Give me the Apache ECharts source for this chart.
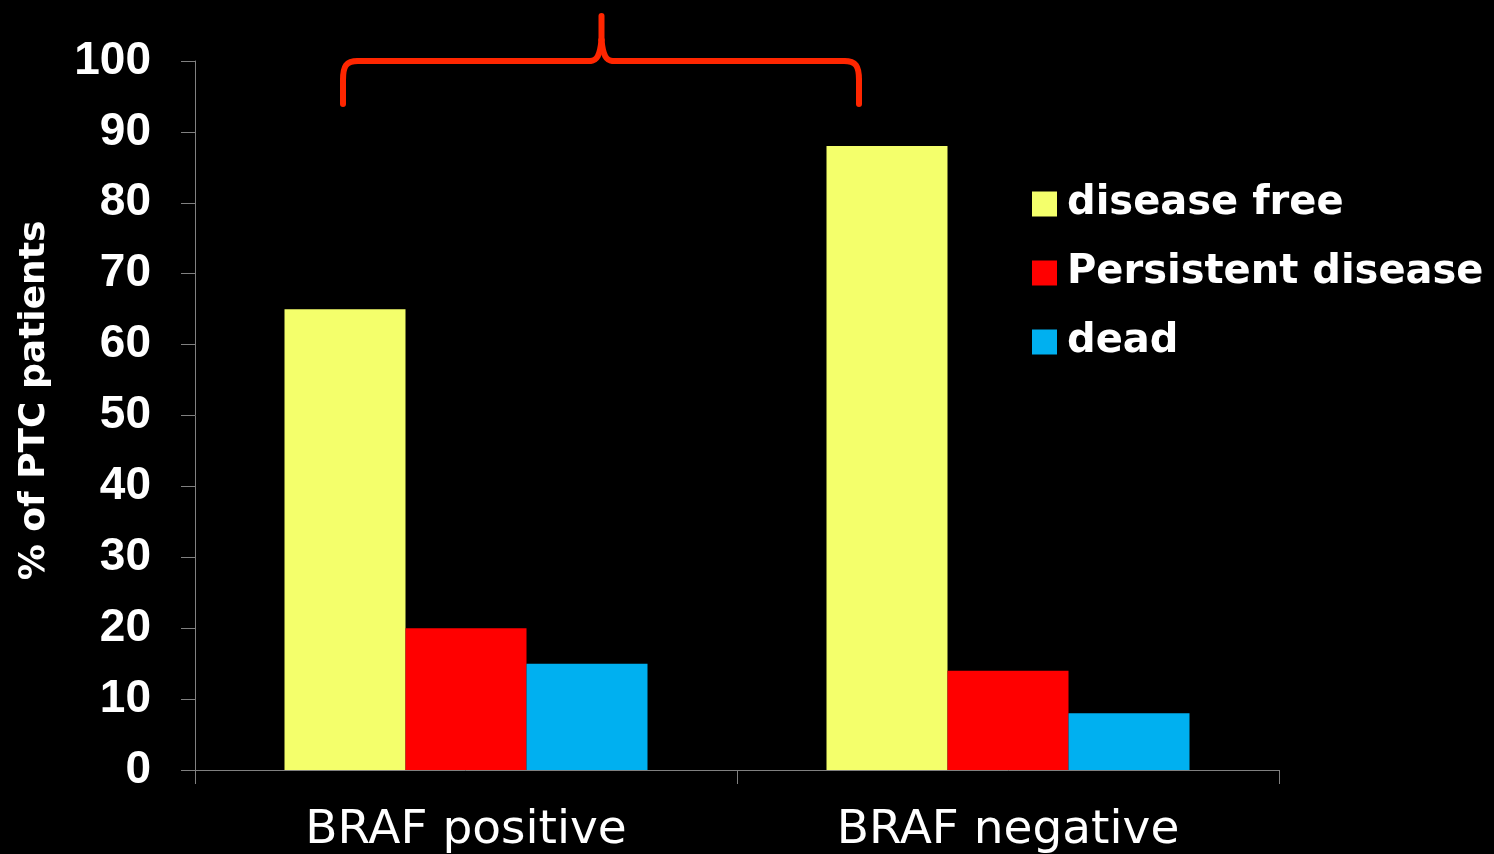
<!DOCTYPE html>
<html><head><meta charset="utf-8">
<script src="https://cdn.jsdelivr.net/npm/echarts@6/dist/echarts.min.js"></script>
<style>html,body{margin:0;padding:0;background:#000;}#c{width:1494px;height:854px;}</style>
</head><body><div id="c"></div>
<script>
const categories = ['BRAF positive', 'BRAF negative'];
const diseaseFree = [65, 88];
const persistentDisease = [20, 14];
const dead = [15, 8];
const seriesNames = ['disease free', 'Persistent disease', 'dead'];

const FONT = '"Liberation Sans", Arial, sans-serif';
const WIDE = '"DejaVu Sans", "Liberation Sans", sans-serif';
const BRACE = { stroke: '#FF2600', lineWidth: 6, fill: null, lineCap: 'round' };
function ln(x1, y1, x2, y2) { return { type: 'line', shape: { x1, y1, x2, y2 }, style: BRACE, silent: true }; }
function bz(x1, y1, cpx1, cpy1, cpx2, cpy2, x2, y2) { return { type: 'bezierCurve', shape: { x1, y1, cpx1, cpy1, cpx2, cpy2, x2, y2 }, style: BRACE, silent: true }; }

const chart = echarts.init(document.getElementById('c'));
chart.setOption({
  backgroundColor: '#000',
  animation: false,
  textStyle: { fontFamily: FONT },
  grid: { left: 195, right: 215, top: 61, bottom: 83, containLabel: false },
  legend: {
    orient: 'vertical', left: 1032, top: 184, padding: 0,
    itemWidth: 25, itemHeight: 25, itemGap: 29,
    icon: 'rect',
    data: seriesNames,
    textStyle: { color: '#fff', fontSize: 40, fontWeight: 'bold', fontFamily: WIDE, padding: [0, 0, 0, 5] }
  },
  xAxis: {
    type: 'category', data: categories,
    axisLine: { show: true, lineStyle: { color: '#808080', width: 1 } },
    axisTick: { show: true, length: 14, lineStyle: { color: '#808080' } },
    axisLabel: { color: '#fff', fontSize: 47, fontFamily: WIDE, margin: 37 }
  },
  yAxis: {
    type: 'value', min: 0, max: 100, interval: 10,
    name: '% of PTC patients', nameLocation: 'middle', nameRotate: 90, nameGap: 142,
    nameTextStyle: { color: '#fff', fontSize: 36, fontWeight: 'bold', fontFamily: WIDE, padding: [0, 0, 0, 30] },
    axisLine: { show: true, lineStyle: { color: '#808080', width: 1 } },
    axisTick: { show: true, length: 14, lineStyle: { color: '#808080' } },
    splitLine: { show: false },
    axisLabel: { color: '#fff', fontSize: 46, fontWeight: 'bold', fontFamily: FONT, margin: 44 }
  },
  series: [
    { name: seriesNames[0], type: 'bar', data: diseaseFree, barWidth: 121, barGap: '0%', itemStyle: { color: '#F4FF6B' } },
    { name: seriesNames[1], type: 'bar', data: persistentDisease, barWidth: 121, barGap: '0%', itemStyle: { color: '#FF0000' } },
    { name: seriesNames[2], type: 'bar', data: dead, barWidth: 121, barGap: '0%', itemStyle: { color: '#00B0F0' } }
  ],
  graphic: [
    ln(343, 104, 343, 80),
    bz(343, 80, 343, 66, 346, 61, 358, 61),
    ln(358, 61, 590, 61),
    bz(590, 61, 597, 61, 600, 55, 601.5, 40),
    ln(601.5, 40, 601.5, 16),
    bz(601.5, 40, 603, 55, 606, 61, 613, 61),
    ln(613, 61, 844, 61),
    bz(844, 61, 856, 61, 859, 66, 859, 80),
    ln(859, 80, 859, 104)
  ]
});
</script></body></html>
